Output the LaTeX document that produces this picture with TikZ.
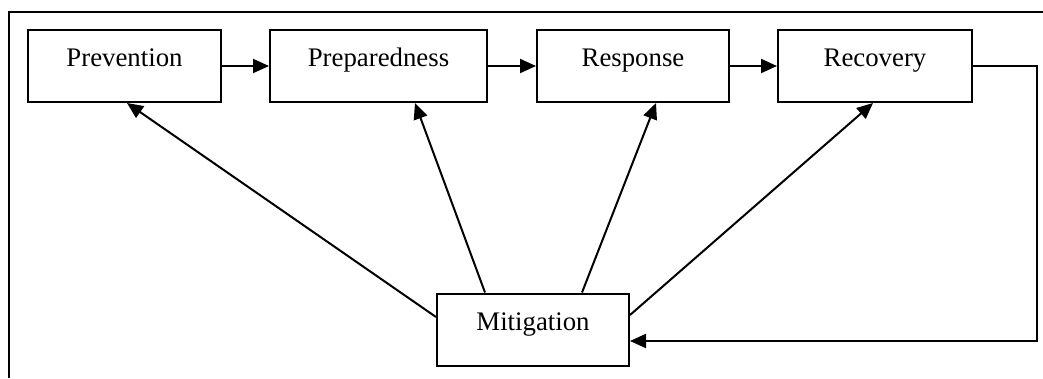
\documentclass[tikz,border=0pt]{standalone}
\usepackage{fontspec}
\setmainfont{Liberation Serif}
\usepackage{tikz}
\usetikzlibrary{arrows.meta,calc,positioning}

\begin{document}
\begin{tikzpicture}[x=1pt, y=1pt, line width=2pt,
	stage/.style={draw, rectangle, minimum width=193pt, inner xsep=0pt, inner ysep=0pt,
		text height=37pt, text depth=35pt, font=\fontsize{26.8pt}{30pt}\selectfont},
	flow/.style={-{Triangle[length=16pt, width=14pt]}}]
			\useasboundingbox (0,0) rectangle (1043,378);
			\draw (9,0) -- (9,366) -- (1043,366);
			
			\node[stage] (prevention) at (124.5,312) {Prevention};
			
			\node[stage, minimum width=217pt, right = 47pt of prevention] (preparedness) {Preparedness};
			
			\node[stage, minimum width=192pt, right = 48pt of preparedness] (response) {Response};
			
			\node[stage, minimum width=194pt, right = 47pt of response] (recovery) {Recovery};
			
			\node[stage, minimum width=192pt] (mitigation) at (533,48.5) {Mitigation};
			
			\draw[flow] (prevention) -- (preparedness);
			\draw[flow] (preparedness) -- (response);
			\draw[flow] (response) -- (recovery);
			
			\draw[flow] ($(mitigation.west)+(0,12.5)$) -- ($(prevention.south)+(2.5,0)$);
			\draw[flow] ($(mitigation.north)+(-48,0)$) -- ($(preparedness.south)+(36.5,0)$);
			\draw[flow] ($(mitigation.north)+(49,0)$) -- ($(response.south)+(23,0)$);
			\draw[flow] ($(mitigation.east)+(0,14.5)$) -- ($(recovery.south)+(-2,0)$);
			
			\coordinate (back) at (1037,200);
			\coordinate (ret) at ($(mitigation.east)+(0,-11.5)$);
			\draw[flow] (recovery.east) -| (back) |- (ret);
		\end{tikzpicture}
\end{document}
